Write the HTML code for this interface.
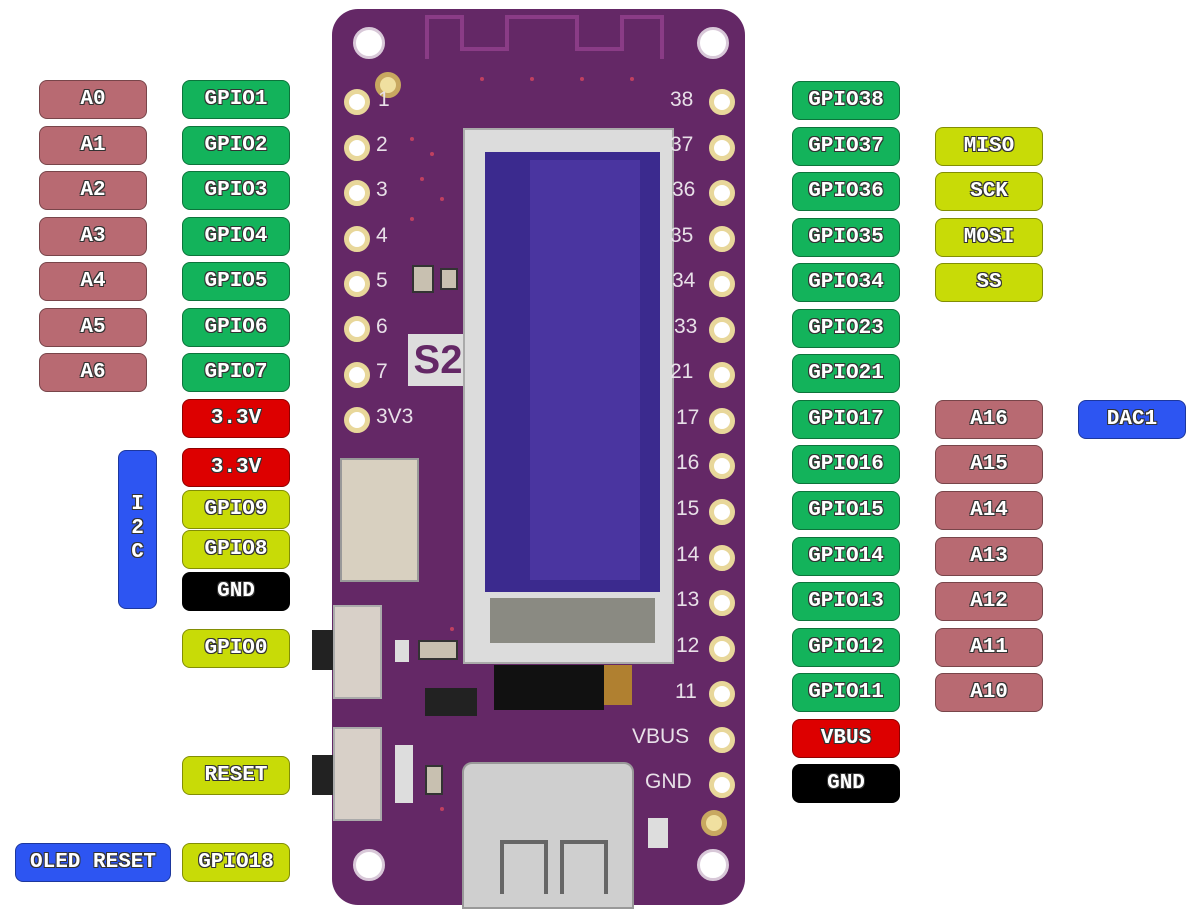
<!DOCTYPE html>
<html><head><meta charset="utf-8"><style>
body{margin:0;width:1200px;height:918px;background:#fff;position:relative;overflow:hidden;font-family:"Liberation Mono",monospace}
.l{position:absolute;width:106px;height:37px;border:1px solid rgba(0,0,0,.35);border-radius:8px;color:#fff;font-weight:bold;font-size:21px;text-align:center;line-height:38px;text-shadow:-1px -1px 0 #333,1px -1px 0 #333,-1px 1px 0 #333,1px 1px 0 #333;box-sizing:content-box}
.p{background:#b86a72}.g{background:#13b35b}.r{background:#dd0000}.y{background:#c8db07}.b{background:#2d55f2}.k{background:#000}
.a{left:39px}.c{left:182px}.d{left:792px}.e{left:935px}
.pin{position:absolute;width:16px;height:16px;border-radius:50%;background:#fff;border:5px solid #e8d79a}
.hole{position:absolute;width:26px;height:26px;border-radius:50%;background:#fff;border:3px solid #d8c8d8}
.s{position:absolute;color:#e8e0e8;font-family:"Liberation Sans",sans-serif;font-size:21px}
.smd{position:absolute;background:#c8c0b0;border:2px solid #333}
</style></head><body>
<!-- board -->
<div style="position:absolute;left:332px;top:9px;width:413px;height:896px;background:#642866;border-radius:26px"></div>
<svg style="position:absolute;left:332px;top:9px" width="413" height="896">
<path d="M95 50 V8 H130 V40 H175 V8 H245 V40 H290 V8 H330 V50" fill="none" stroke="#8a3c86" stroke-width="4"/>
<g fill="#c04060"><circle cx="80" cy="130" r="2"/><circle cx="100" cy="145" r="2"/><circle cx="90" cy="170" r="2"/><circle cx="110" cy="190" r="2"/><circle cx="80" cy="210" r="2"/><circle cx="150" cy="70" r="2"/><circle cx="200" cy="70" r="2"/><circle cx="250" cy="70" r="2"/><circle cx="300" cy="70" r="2"/><circle cx="120" cy="620" r="2"/><circle cx="110" cy="800" r="2"/><circle cx="300" cy="780" r="2"/></g>
</svg>
<div class="hole" style="left:353px;top:27px"></div><div class="hole" style="left:697px;top:27px"></div>
<div class="hole" style="left:353px;top:849px"></div><div class="hole" style="left:697px;top:849px"></div>
<div class="pin" style="left:375px;top:72px;border-color:#c8a860;background:#f0e0a0"></div>
<div class="pin" style="left:701px;top:810px;border-color:#c8a860;background:#f0e0a0"></div>
<!-- left pins -->
<div class="pin" style="left:344px;top:89px"></div><div class="pin" style="left:344px;top:135px"></div><div class="pin" style="left:344px;top:180px"></div><div class="pin" style="left:344px;top:226px"></div><div class="pin" style="left:344px;top:271px"></div><div class="pin" style="left:344px;top:316px"></div><div class="pin" style="left:344px;top:362px"></div><div class="pin" style="left:344px;top:407px"></div>
<div class="s" style="left:378px;top:88px">1</div><div class="s" style="left:376px;top:133px">2</div><div class="s" style="left:376px;top:178px">3</div><div class="s" style="left:376px;top:224px">4</div><div class="s" style="left:376px;top:269px">5</div><div class="s" style="left:376px;top:315px">6</div><div class="s" style="left:376px;top:360px">7</div><div class="s" style="left:376px;top:405px">3V3</div>
<!-- right pins -->
<div class="pin" style="left:709px;top:89px"></div><div class="pin" style="left:709px;top:135px"></div><div class="pin" style="left:709px;top:180px"></div><div class="pin" style="left:709px;top:226px"></div><div class="pin" style="left:709px;top:271px"></div><div class="pin" style="left:709px;top:317px"></div><div class="pin" style="left:709px;top:362px"></div><div class="pin" style="left:709px;top:408px"></div><div class="pin" style="left:709px;top:453px"></div><div class="pin" style="left:709px;top:499px"></div><div class="pin" style="left:709px;top:545px"></div><div class="pin" style="left:709px;top:590px"></div><div class="pin" style="left:709px;top:636px"></div><div class="pin" style="left:709px;top:681px"></div><div class="pin" style="left:709px;top:727px"></div><div class="pin" style="left:709px;top:772px"></div>
<div class="smd" style="left:412px;top:265px;width:18px;height:24px"></div><div class="smd" style="left:440px;top:268px;width:14px;height:18px"></div>
<div class="smd" style="left:418px;top:640px;width:36px;height:16px"></div>
<div class="smd" style="left:425px;top:765px;width:14px;height:26px"></div>
<div style="position:absolute;left:395px;top:640px;width:14px;height:22px;background:#ddd"></div>
<div style="position:absolute;left:395px;top:745px;width:18px;height:58px;background:#ddd"></div>
<div style="position:absolute;left:648px;top:818px;width:20px;height:30px;background:#ddd"></div>
<!-- S2 silk -->
<div style="position:absolute;left:408px;top:334px;width:60px;height:52px;background:#ddd;color:#642866;font:bold 40px 'Liberation Sans',sans-serif;line-height:52px;text-align:center">S2</div>
<!-- OLED -->
<div style="position:absolute;left:463px;top:128px;width:207px;height:532px;background:#dcdcdc;border:2px solid #aaa"></div>
<div style="position:absolute;left:485px;top:152px;width:175px;height:440px;background:#3b2a8e"></div>
<div style="position:absolute;left:530px;top:160px;width:110px;height:420px;background:#4a35a0"></div>
<div style="position:absolute;left:490px;top:598px;width:165px;height:45px;background:#8a8a82"></div>
<div style="position:absolute;left:494px;top:665px;width:110px;height:45px;background:#111"></div>
<div style="position:absolute;left:604px;top:665px;width:28px;height:40px;background:#b08030"></div>
<div class="s" style="left:670px;top:88px">38</div><div class="s" style="left:670px;top:133px">37</div><div class="s" style="left:672px;top:178px">36</div><div class="s" style="left:670px;top:224px">35</div><div class="s" style="left:672px;top:269px">34</div><div class="s" style="left:674px;top:315px">33</div><div class="s" style="left:670px;top:360px">21</div><div class="s" style="left:676px;top:406px">17</div><div class="s" style="left:676px;top:451px">16</div><div class="s" style="left:676px;top:497px">15</div><div class="s" style="left:676px;top:543px">14</div><div class="s" style="left:676px;top:588px">13</div><div class="s" style="left:676px;top:634px">12</div><div class="s" style="left:675px;top:680px">11</div><div class="s" style="left:632px;top:725px">VBUS</div><div class="s" style="left:645px;top:770px">GND</div>
<!-- I2C conn -->
<div style="position:absolute;left:340px;top:458px;width:75px;height:120px;background:#d8d0c0;border:2px solid #999"></div>
<!-- buttons -->
<div style="position:absolute;left:312px;top:630px;width:22px;height:40px;background:#222"></div>
<div style="position:absolute;left:333px;top:605px;width:45px;height:90px;background:#d8d0c8;border:2px solid #aaa"></div>
<div style="position:absolute;left:312px;top:755px;width:22px;height:40px;background:#222"></div>
<div style="position:absolute;left:333px;top:727px;width:45px;height:90px;background:#d8d0c8;border:2px solid #aaa"></div>
<div style="position:absolute;left:425px;top:688px;width:52px;height:28px;background:#222"></div>
<!-- USB-C -->
<div style="position:absolute;left:462px;top:762px;width:168px;height:143px;background:#cfcfcf;border-radius:10px 10px 0 0;border:2px solid #999"></div>
<div style="position:absolute;left:500px;top:840px;width:40px;height:50px;border:4px solid #666;border-bottom:none"></div>
<div style="position:absolute;left:560px;top:840px;width:40px;height:50px;border:4px solid #666;border-bottom:none"></div>

<!-- labels left -->
<div class="l p a" style="top:80px">A0</div><div class="l g c" style="top:80px">GPIO1</div>
<div class="l p a" style="top:126px">A1</div><div class="l g c" style="top:126px">GPIO2</div>
<div class="l p a" style="top:171px">A2</div><div class="l g c" style="top:171px">GPIO3</div>
<div class="l p a" style="top:217px">A3</div><div class="l g c" style="top:217px">GPIO4</div>
<div class="l p a" style="top:262px">A4</div><div class="l g c" style="top:262px">GPIO5</div>
<div class="l p a" style="top:308px">A5</div><div class="l g c" style="top:308px">GPIO6</div>
<div class="l p a" style="top:353px">A6</div><div class="l g c" style="top:353px">GPIO7</div>
<div class="l r c" style="top:399px">3.3V</div>
<div class="l b" style="left:118px;top:450px;width:37px;height:157px;line-height:24px;padding-top:0"><div style="margin-top:42px">I<br>2<br>C</div></div>
<div class="l r c" style="top:448px">3.3V</div>
<div class="l y c" style="top:490px">GPIO9</div>
<div class="l y c" style="top:530px">GPIO8</div>
<div class="l k c" style="top:572px">GND</div>
<div class="l y c" style="top:629px">GPIO0</div>
<div class="l y c" style="top:756px">RESET</div>
<div class="l b" style="left:15px;top:843px;width:154px">OLED RESET</div>
<div class="l y c" style="top:843px">GPIO18</div>
<!-- labels right -->
<div class="l g d" style="top:81px">GPIO38</div>
<div class="l g d" style="top:127px">GPIO37</div><div class="l y e" style="top:127px">MISO</div>
<div class="l g d" style="top:172px">GPIO36</div><div class="l y e" style="top:172px">SCK</div>
<div class="l g d" style="top:218px">GPIO35</div><div class="l y e" style="top:218px">MOSI</div>
<div class="l g d" style="top:263px">GPIO34</div><div class="l y e" style="top:263px">SS</div>
<div class="l g d" style="top:309px">GPIO23</div>
<div class="l g d" style="top:354px">GPIO21</div>
<div class="l g d" style="top:400px">GPIO17</div><div class="l p e" style="top:400px">A16</div><div class="l b" style="left:1078px;top:400px">DAC1</div>
<div class="l g d" style="top:445px">GPIO16</div><div class="l p e" style="top:445px">A15</div>
<div class="l g d" style="top:491px">GPIO15</div><div class="l p e" style="top:491px">A14</div>
<div class="l g d" style="top:537px">GPIO14</div><div class="l p e" style="top:537px">A13</div>
<div class="l g d" style="top:582px">GPIO13</div><div class="l p e" style="top:582px">A12</div>
<div class="l g d" style="top:628px">GPIO12</div><div class="l p e" style="top:628px">A11</div>
<div class="l g d" style="top:673px">GPIO11</div><div class="l p e" style="top:673px">A10</div>
<div class="l r d" style="top:719px">VBUS</div>
<div class="l k d" style="top:764px">GND</div>
</body></html>
